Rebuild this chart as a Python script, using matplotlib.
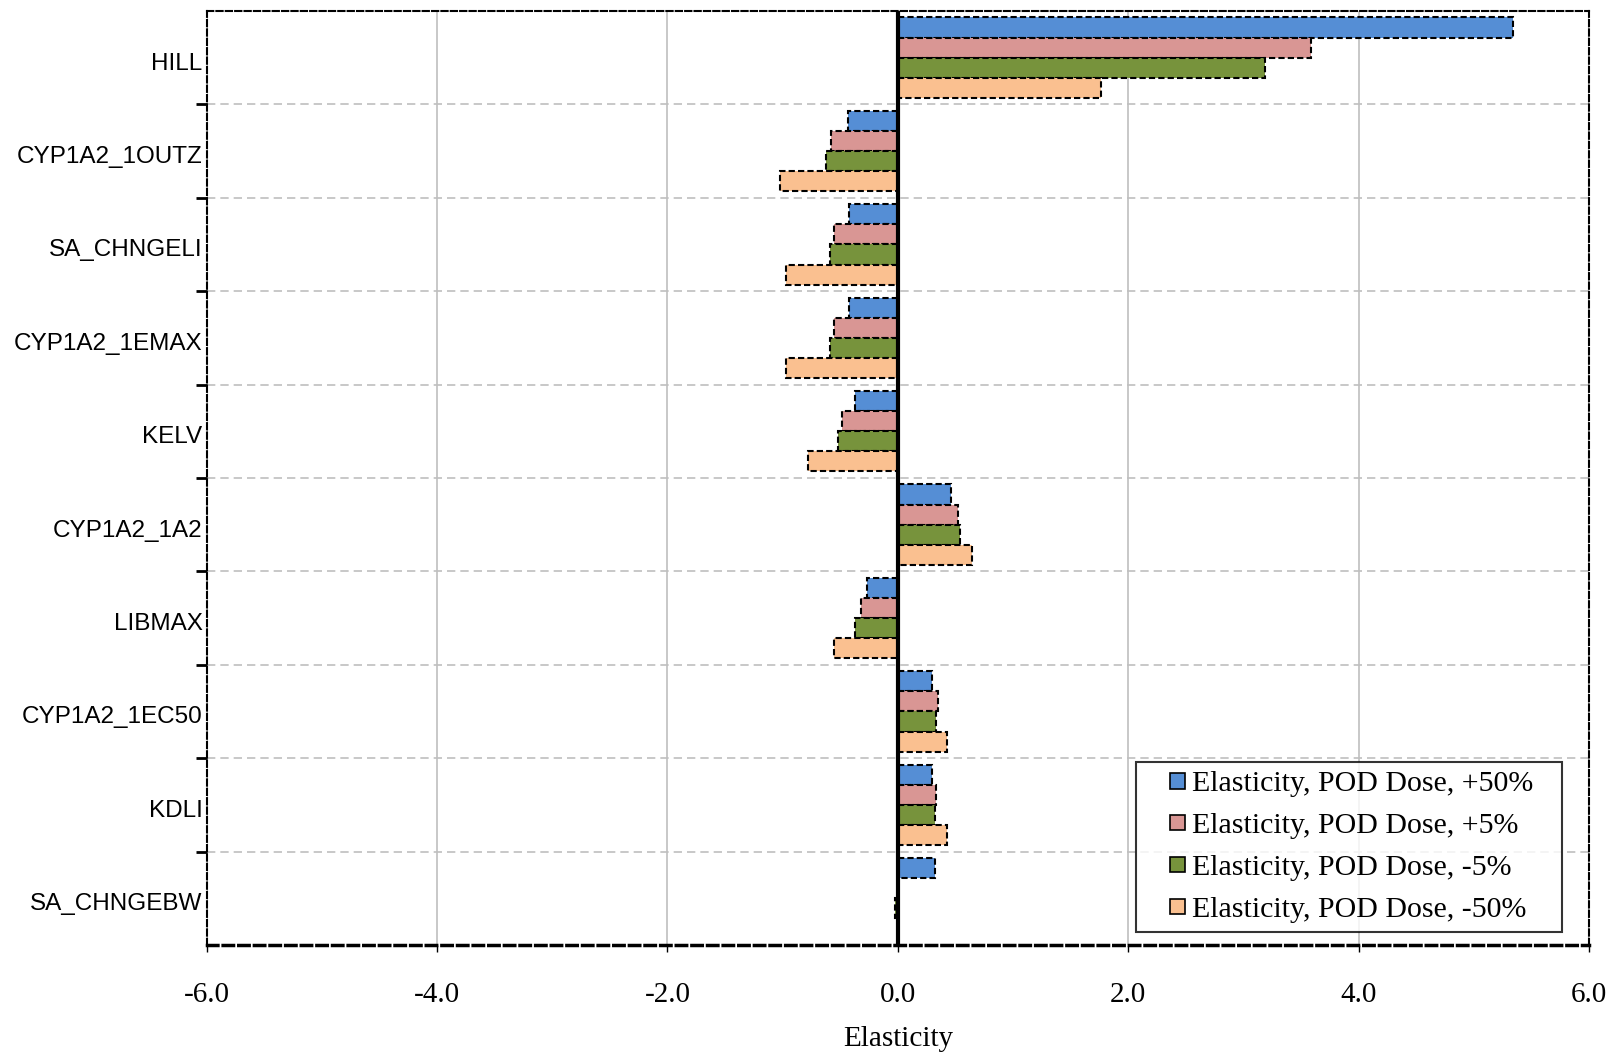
import numpy as np
import matplotlib.pyplot as plt
import matplotlib.transforms as mtransforms
from matplotlib.patches import Patch, Rectangle
from matplotlib.legend_handler import HandlerPatch

# Parameters (top to bottom) and elasticity per POD dose change
params = ['HILL', 'CYP1A2_1OUTZ', 'SA_CHNGELI', 'CYP1A2_1EMAX', 'KELV',
          'CYP1A2_1A2', 'LIBMAX', 'CYP1A2_1EC50', 'KDLI', 'SA_CHNGEBW']
plus50 = [5.34, -0.43, -0.42, -0.42, -0.37, 0.46, -0.27, 0.30, 0.30, 0.32]
plus5 = [3.59, -0.58, -0.55, -0.55, -0.48, 0.52, -0.32, 0.35, 0.33, 0.0]
minus5 = [3.19, -0.62, -0.59, -0.59, -0.52, 0.54, -0.37, 0.33, 0.32, -0.02]
minus50 = [1.76, -1.02, -0.97, -0.97, -0.78, 0.64, -0.55, 0.43, 0.43, 0.0]

series = [
    ('Elasticity, POD Dose, +50%', plus50, '#558ED5'),
    ('Elasticity, POD Dose, +5%', plus5, '#D99694'),
    ('Elasticity, POD Dose, -5%', minus5, '#77933C'),
    ('Elasticity, POD Dose, -50%', minus50, '#FAC090'),
]
xticks = [-6.0, -4.0, -2.0, 0.0, 2.0, 4.0, 6.0]


def small_square(legend, orig_handle, xdescent, ydescent, width, height, fontsize):
    # small square marker pushed to the right end of the handle box
    size = 11.0
    return Rectangle((-xdescent + width - size, -ydescent + (height - size) / 2), size, size)


fig = plt.figure(figsize=(16.14, 10.53), dpi=100)
ax = fig.add_axes([0.128, 0.1026, 0.8565, 0.887])

y = np.arange(len(params))
h = 0.215
dash = (0, (3, 1.5))
for i, (name, vals, color) in enumerate(series):
    ax.barh(y + (i - 1.5) * h, vals, height=h, color=color,
            edgecolor='black', linewidth=1.5, linestyle=dash, zorder=3)

ax.axvline(0, color='black', lw=3, zorder=4)

# axes limits and ticks
ax.set_xlim(-6, 6)
ax.set_ylim(len(params) - 0.5, -0.5)
ax.set_xticks(xticks)
ax.set_xticklabels([f'{t:.1f}' for t in xticks], family='Liberation Serif', fontsize=21)
ax.tick_params(axis='x', direction='out', length=5, width=1, pad=21.5)

ax.set_yticks(np.arange(len(params) - 1) + 0.5)
ax.set_yticklabels([])
ax.set_yticks(y, minor=True)
ax.set_yticklabels(params, minor=True, family='Liberation Sans', fontsize=17.5)
ax.tick_params(axis='y', which='major', direction='out', length=8, width=2)
ax.tick_params(axis='y', which='minor', length=0, pad=3)
shift = mtransforms.ScaledTranslation(0, -2.5 / 72, fig.dpi_scale_trans)
for lbl in ax.get_yticklabels(minor=True):
    lbl.set_transform(lbl.get_transform() + shift)

ax.grid(axis='x', color='#BFBFBF', lw=1.2, zorder=0)
ax.grid(axis='y', which='major', color='#BFBFBF', lw=1.2, linestyle=(0, (5, 3)), zorder=0)

for s in ax.spines.values():
    s.set_linestyle((0, (3, 1.5)))
    s.set_linewidth(1.5)
ax.spines['bottom'].set_linewidth(2.5)

ax.set_xlabel('Elasticity', family='Liberation Serif', fontsize=21, labelpad=13)

handles = [Patch(facecolor=c, edgecolor='black', lw=1.2, label=n) for n, _, c in series]
leg = ax.legend(handles=handles, loc='lower left', bbox_to_anchor=(0.672, 0.014, 0.3085, 0.18),
                mode='expand', handler_map={Patch: HandlerPatch(patch_func=small_square)},
                prop={'family': 'Liberation Serif', 'size': 21.5}, frameon=True,
                fancybox=False, edgecolor='black', handlelength=1.35, handleheight=0.7,
                handletextpad=0.25, labelspacing=0.5, borderpad=0.3, borderaxespad=0)
leg.get_frame().set_linewidth(1.5)
leg.set_zorder(5)

fig.savefig('out.png', dpi=100)
